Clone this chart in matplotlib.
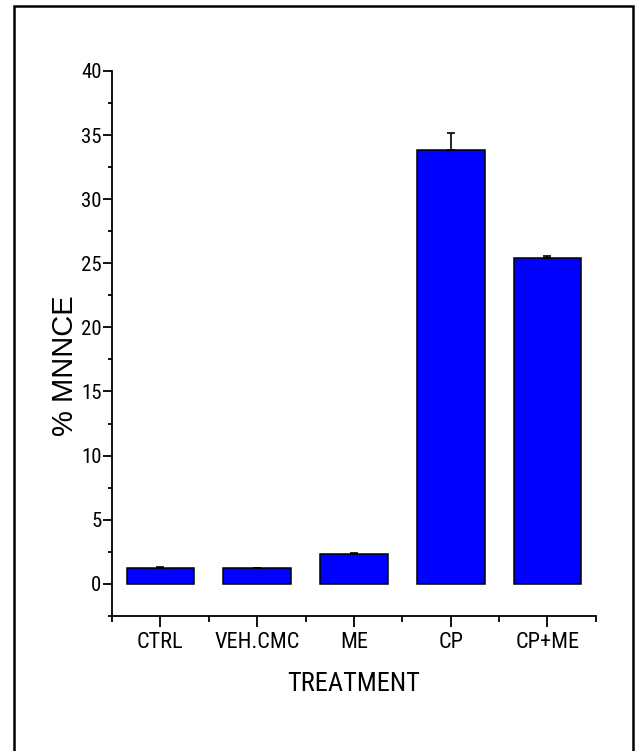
import numpy as np
import matplotlib.pyplot as plt
from matplotlib.patches import Rectangle
from matplotlib.ticker import MultipleLocator

plt.rcParams['font.family'] = ['Roboto Condensed', 'Liberation Sans', 'DejaVu Sans']

# Data
treatments = ['CTRL', 'VEH.CMC', 'ME', 'CP', 'CP+ME']
mnnce = [1.2, 1.2, 2.35, 33.85, 25.45]
errors = [0.08, 0.02, 0.08, 1.28, 0.08]

fig = plt.figure(figsize=(6.4, 7.51), dpi=100)
ax = fig.add_axes([0.175, 0.18, 0.756, 0.7255])

x = np.arange(1, len(treatments) + 1)
ax.bar(x, mnnce, width=0.7, color='#0000ff', edgecolor='black', linewidth=1.1,
       yerr=[np.zeros(len(errors)), errors], error_kw=dict(ecolor='black', elinewidth=1.2, capsize=3, capthick=1.2))

ax.set_xlim(0.5, 5.5)
ax.set_ylim(-2.5, 40)
ax.set_xticks(x)
ax.set_xticklabels(treatments)
ax.xaxis.set_minor_locator(MultipleLocator(1, offset=0.5))
ax.yaxis.set_major_locator(MultipleLocator(5))
ax.yaxis.set_minor_locator(MultipleLocator(2.5))

ax.spines['top'].set_visible(False)
ax.spines['right'].set_visible(False)
for s in ['left', 'bottom']:
    ax.spines[s].set_linewidth(1.3)

ax.tick_params(axis='y', which='major', length=6.5, width=1.3, labelsize=15, pad=1)
ax.tick_params(axis='y', which='minor', length=3, width=1.3)
ax.tick_params(axis='x', which='major', length=8, width=1.3, labelsize=16, pad=4)
ax.tick_params(axis='x', which='minor', length=4.5, width=1.3)

ax.set_xlabel('TREATMENT', fontsize=19, labelpad=13)
ax.set_ylabel('% MNNCE', fontsize=21, family=['Liberation Sans', 'DejaVu Sans'])
ax.yaxis.set_label_coords(-0.068, 0.46)

# frame around the whole picture
fig.patches.append(Rectangle((13.5 / 640, -0.02), 619 / 640, 1.02 - 6 / 751,
                             transform=fig.transFigure, fill=False, edgecolor='black',
                             linewidth=1.8, clip_on=False))

fig.savefig('out.png', dpi=100)
